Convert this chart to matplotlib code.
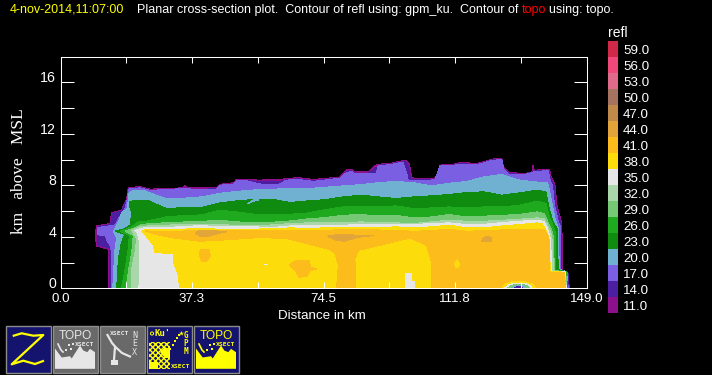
import numpy as np
import matplotlib
matplotlib.use('Agg')
import matplotlib.pyplot as plt
from matplotlib.patches import Rectangle, Polygon

# Data
#######

levels = [59, 56, 53, 50, 47, 44, 41, 38, 35, 32, 29, 26, 23, 20, 17, 14, 11]
colors = ['#d02848', '#f0487a', '#e06a8a', '#a57460', '#bf8a4a', '#e2a539', '#fbbc1c', '#fddc0c', '#e6e6e6',
          '#a9d7a9', '#75c975', '#1fa91f', '#0f8c0f', '#70b1d2', '#7a5fe3', '#4b1fa0', '#8c108c']
col = dict(zip(levels, colors))

x_ticks = [0, 18.625, 37.25, 55.875, 74.5, 93.125, 111.75, 130.375, 149]
x_labels = ['0.0', '', '37.3', '', '74.5', '', '111.8', '', '149.0']
y_ticks = [2, 4, 6, 8, 10, 12, 14, 16]
y_labels = [0, 4, 8, 12, 16]

# outer echo outline for 11 dBZ, km
x11 = [13.55, 13.55, 10.25, 9.8, 10.25, 14.0, 14.5, 17.3, 18.75, 19.2, 22.5, 25.4, 34.6, 35.3, 36, 39.5, 44.2, 45.2, 49,
       49.9, 52.7, 56.5, 58.4, 62.2, 64, 67.4, 71.6, 76.3, 79.2, 81.1, 82.5, 83.4, 87.2, 89, 90, 93.3, 96.2, 97.9, 98.8,
       99.5, 103.7, 106.1, 107.3, 108, 111.3, 113.2, 117.9, 119.8, 122.2, 125, 125.5, 126.9, 131.1, 133.5, 133.8, 134.2,
       138.5, 138.9, 140.1, 140.6, 142, 142.3, 143.9, 144.1]
y11 = [0, 3.03, 3.29, 4.12, 4.84, 5.03, 5.88, 6.06, 6.97, 7.8, 7.9, 7.7, 7.8, 8.0, 7.8, 7.8, 7.82, 8.08, 8.19,
       8.47, 8.47, 8.39, 8.45, 8.45, 8.52, 8.6, 8.45, 8.57, 8.65, 9.2, 9.2, 9.04, 9.04, 9.5, 9.64, 9.69, 9.87, 9.95, 9.69,
       8.57, 8.52, 8.57, 8.91, 9.6, 9.64, 9.77, 9.7, 9.82, 10.03, 10.08, 9.43, 9.0, 8.91, 8.99, 9.56, 9.17,
       9.25, 8.73, 8.0, 6.45, 5.03, 1.4, 1.14, 0]

x14 = [14.0, 13.9, 10.35, 10.35, 14.2, 14.7, 17.2, 18.9, 19.4, 22.5, 25.4, 39.5, 44.2, 45.3, 49, 50, 52.7, 56.5, 62.2, 64,
       67.4, 71.6, 76.3, 79.2, 81.2, 82.5, 83.4, 87.2, 89.2, 90.2, 93.3, 96.2, 97.6, 98.4, 99.2, 103.7, 106.1, 107.5, 108.2,
       111.3, 113.2, 117.9, 119.8, 122.2, 124.8, 125.3, 126.9, 131.1, 134.2, 138.3, 138.7, 139.8, 140.3, 141.7, 142.0, 143.8, 143.9]
y14 = [0, 3.15, 3.38, 4.75, 4.95, 5.8, 5.98, 6.88, 7.72, 7.82, 7.62, 7.7, 7.72, 7.98, 8.1, 8.38, 8.38, 8.28, 8.3, 8.44,
       8.5, 8.36, 8.48, 8.57, 9.1, 9.12, 8.95, 8.95, 9.3, 9.55, 9.62, 9.78, 9.85, 9.55, 8.48, 8.43, 8.48, 8.82, 9.55,
       9.56, 9.68, 9.62, 9.75, 9.96, 10.0, 9.35, 8.92, 8.83, 9.1, 9.18, 8.65, 7.95, 6.45, 5.03, 1.42, 1.16, 0]

x17 = [14.4, 14.3, 13.2, 12.6, 10.4, 10.4, 15.4, 16.6, 18.3, 18.9, 19.3, 22.5, 25.4, 35, 39.5, 44.2, 45.2, 49, 49.9, 52.7,
       56.5, 60, 62.2, 64, 67.4, 71.6, 76.3, 79.2, 81.1, 82.5, 83.4, 87.2, 89.5, 90, 93.3, 96.2, 97, 98, 98.5, 103.7, 106.1,
       107.5, 111.3, 113.2, 117.9, 119.8, 122.2, 125, 125.5, 126.9, 131.1, 134.2, 138.2, 138.6, 139.4, 139.9, 141, 141.6, 141.6, 143.6, 143.8]
y17 = [0, 3.2, 3.7, 4.1, 4.15, 4.72, 4.9, 5.5, 6.2, 6.9, 7.7, 7.8, 7.6, 7.75, 7.65, 7.7, 8.0, 8.1, 8.35, 8.35,
       8.1, 8.05, 8.1, 8.4, 8.45, 8.3, 8.45, 8.55, 9.0, 9.05, 8.9, 8.9, 8.95, 9.5, 9.6, 9.75, 9.75, 9.0, 8.4, 8.35, 8.45,
       9.5, 9.55, 9.65, 9.6, 9.72, 9.95, 9.98, 9.3, 8.85, 8.8, 9.05, 9.15, 8.5, 7.9, 6.5, 5.2, 4.8, 1.45, 1.2, 0]

# echo tops for the inner levels on a common distance grid
main_dist = [25, 30, 35, 40, 45, 50, 55, 60, 65, 70, 75, 80, 85, 90, 95, 100, 105, 110, 115, 120, 125, 130, 135]
top20 = [7.45, 6.95, 7.0, 7.1, 7.37, 7.53, 7.64, 7.7, 7.74, 7.74, 7.85, 7.95, 8.05, 8.2, 8.3, 8.2, 7.95, 8.15, 8.3, 8.65, 8.85, 8.4, 8.25]
top23 = [6.79, 6.19, 6.27, 6.27, 6.63, 6.79, 6.9, 6.92, 6.66, 6.79, 6.88, 7.1, 7.23, 7.1, 6.97, 7.1, 7.18, 7.28, 7.44, 7.49, 7.23, 7.41, 7.62]
top26 = [5.25, 5.55, 5.65, 5.7, 6.06, 5.93, 5.75, 5.75, 5.75, 5.85, 6.11, 6.32, 6.32, 6.32, 6.4, 6.19, 6.24, 6.32, 6.24, 6.32, 6.32, 6.45, 6.76]
top29 = [5.0, 5.1, 5.15, 5.2, 5.28, 5.16, 5.08, 5.13, 5.23, 5.39, 5.49, 5.67, 5.73, 5.62, 5.67, 5.47, 5.54, 5.73, 5.54, 5.6, 5.67, 5.73, 5.93]
top32 = [4.85, 4.9, 4.97, 4.97, 4.97, 4.87, 4.87, 4.92, 5.03, 5.08, 5.13, 5.08, 5.16, 5.1, 5.08, 5.03, 5.16, 5.28, 5.21, 5.21, 5.28, 5.36, 5.47]
top35 = [4.7, 4.72, 4.8, 4.87, 4.77, 4.77, 4.77, 4.72, 4.84, 4.87, 4.9, 4.9, 4.95, 4.95, 4.95, 4.95, 5.03, 5.08, 4.95, 4.97, 5.1, 5.21, 5.28]
top38 = [4.55, 4.55, 4.6, 4.64, 4.59, 4.59, 4.59, 4.64, 4.69, 4.66, 4.69, 4.69, 4.74, 4.72, 4.77, 4.69, 4.77, 4.9, 4.69, 4.69, 4.84, 4.95, 5.08]
top41 = [4.45, 4.4, 4.45, 4.5, 4.46, 4.5, 4.46, 4.46, 4.5, 4.5, 4.5, 4.56, 4.59, 4.53, 4.5, 4.43, 4.48, 4.59, 4.43, 4.48, 4.53, 4.59, 4.59]

# left ends (from the surface up to the main grid)
left20 = [(14.8, 0), (15.2, 2), (15.5, 3.3), (16.0, 3.9), (15, 4.38), (15.6, 4.75), (16.6, 5.3), (17.3, 5.9), (19.0, 6.2), (19.3, 7.3), (20, 7.55), (23.5, 7.6)]
left23 = [(15.9, 0), (16.4, 2.3), (17.3, 3.6), (18.3, 4.17), (15.45, 4.43), (18.3, 4.64), (19.7, 4.9), (20.2, 5.8), (19.5, 6.45), (19.5, 6.7), (21.1, 6.84), (24.3, 6.84)]
left26 = [(17.3, 0), (18.3, 1.5), (19.2, 3.1), (19.5, 4.1), (16.9, 4.43), (20.2, 4.77), (22.05, 5.15), (24.4, 5.2)]
left29 = [(18.6, 0), (19.2, 1.27), (20.2, 2.8), (20.6, 4.1), (18.3, 4.45), (21.1, 4.69), (22.5, 4.9), (24.4, 5.0)]
left32 = [(20, 0), (20.2, 1.5), (21.1, 2.8), (21.6, 3.86), (20.2, 4.5), (22.5, 4.77), (24.9, 4.85)]
left35 = [(22.2, 0), (22.5, 2), (22.5, 3.6), (21.6, 4.38), (21.1, 4.5), (23.5, 4.69)]
left38 = [(33.7, 0), (33.4, 1.0), (32, 2.05), (32, 2.7), (26.8, 2.77), (26.3, 3.34), (24.9, 3.86), (23, 4.43), (24, 4.56)]

# right ends (back down to the surface)
right20 = [(138.0, 8.2), (138.5, 7.6), (139.2, 6.6), (140.2, 5.3), (141.0, 4.7), (141.3, 1.5), (143.4, 1.28), (143.7, 0)]
right23 = [(137.5, 7.5), (138, 6.8), (138.6, 6), (139.5, 5.2), (140.7, 4.6), (141, 1.45), (143.3, 1.28), (143.6, 0)]
right26 = [(137.5, 6.6), (138.3, 5.7), (139.5, 4.9), (140.1, 4.4), (140.3, 1.4), (143.2, 1.28), (143.5, 0)]
right29 = [(137, 5.8), (138, 5.2), (139, 4.6), (139.6, 4), (139.9, 1.38), (143.1, 1.28), (143.4, 0)]
right32 = [(137, 5.4), (138, 4.9), (138.9, 4.3), (139.4, 3.5), (139.6, 1.35), (143, 1.27), (143.3, 0)]
right35 = [(137, 5.2), (138, 4.6), (138.8, 3.8), (139.2, 1.33), (142.9, 1.27), (143.25, 0)]
right38 = [(136.5, 5), (137.5, 4.5), (138.3, 3.8), (138.8, 1.3), (142.8, 1.25), (143.2, 0)]
right41 = [(137, 4.55), (138, 4.2), (138.6, 3.5), (138.6, 1.25), (142.7, 1.22), (143.1, 0)]

# 41 dBZ underside, from the right column back to the left tip
under41 = [(105.1, 0), (105.1, 2.05), (103.7, 3.34), (99, 3.9), (90.5, 3.34), (84.4, 2.95), (83.4, 2.3), (83.7, 0),
           (78.2, 0), (78.7, 1.8), (77.8, 2.7), (76.3, 3.0), (69.7, 3.47), (64, 3.86), (56.5, 3.94), (45.2, 3.73),
           (39.5, 3.65), (32, 3.9), (27.2, 4.17), (24, 4.45)]

# small cells
orange1 = [(39.6, 2.4), (39.3, 2.7), (39.9, 3.05), (42.2, 3.0), (42.4, 2.5), (41.4, 2.1), (40, 2.05)]
orange2 = [(64.8, 1.85), (67, 2.18), (70.5, 2.15), (70.8, 1.65), (72.6, 1.5), (70.5, 1.35), (70, 0.95), (67.5, 0.85), (66.5, 1.4)]
yellow1 = [(111.7, 1.9), (112.4, 2.2), (113, 1.9), (112.8, 1.65), (112, 1.65)]
white1 = [(57.6, 1.78), (57.6, 1.9), (58.8, 1.9), (58.8, 1.78)]
white2 = [(97.6, 0), (97.6, 1.22), (99.5, 1.22), (99.5, 0.55), (100.4, 0.55), (100.4, 0)]
orange3 = [(38.1, 4.3), (39, 4.45), (42, 4.5), (47.1, 4.4), (44, 4.2), (42, 4.05), (39.5, 4.05)]
orange4 = [(75.5, 4.05), (78.5, 4.17), (88.6, 4.1), (84, 3.95), (80.5, 3.65), (78, 3.75)]
orange5 = [(119.2, 3.65), (120, 3.95), (120.8, 4.05), (122, 3.95), (122, 3.65)]
notch20 = [(53, 6.55), (54.5, 6.85), (56, 7.0), (56, 6.85), (54.5, 6.75)]

# low-echo pocket near the surface
pocket38 = [(125, 0), (126, 0.35), (128, 0.5), (131.5, 0.5), (134, 0.3), (134.5, 0)]
pocket35 = [(125.8, 0), (127, 0.3), (129, 0.4), (131.5, 0.4), (133, 0.22), (133.6, 0)]
pocket29 = [(126.6, 0), (127.6, 0.22), (129.5, 0.33), (131, 0.32), (132.3, 0.17), (132.8, 0)]
pocket20 = [(127.6, 0), (128.6, 0.17), (130, 0.24), (131.4, 0.14), (131.9, 0)]
pocket14 = [(128.5, 0), (129.4, 0.12), (130.4, 0.14), (131.1, 0)]

# Figure
#########

W, H = 712, 375
plt.rcParams['font.family'] = ['Liberation Sans', 'DejaVu Sans']
fig = plt.figure(figsize=(W/100, H/100), dpi=100, facecolor='black')

# whole-figure axes in pixel coordinates for the title, colour key and buttons
chrome = fig.add_axes([0, 0, 1, 1])
chrome.set_xlim(0, W)
chrome.set_ylim(H, 0)
chrome.axis('off')

ax = fig.add_axes([60.5/W, (H-288.3)/H, 526/W, 231.8/H], facecolor='black')
ax.set_xlim(0, 149)
ax.set_ylim(0, 18)


def band(pts, color) :
    pts = np.array(pts)
    ax.fill(pts[:, 0], pts[:, 1], color=color, linewidth=0, antialiased=False)


def body(left, top, right) :
    return left + list(zip(main_dist, top)) + right


band(list(zip(x11, y11)), col[11])
band(list(zip(x14, y14)), col[14])
band(list(zip(x17, y17)), col[17])
band(body(left20, top20, right20), col[20])
band(body(left23, top23, right23), col[23])
band(notch20, col[20])
band(body(left26, top26, right26), col[26])
band(body(left29, top29, right29), col[29])
band(body(left32, top32, right32), col[32])
band(body(left35, top35, right35), col[35])
band(body(left38, top38, right38), col[38])
band(body([(24, 4.45)], top41, right41) + under41, col[41])
for cell in [orange1, orange2] :
    band(cell, col[41])
band(yellow1, col[38])
band(white1, col[35])
band(white2, col[35])
for cell in [orange3, orange4, orange5] :
    band(cell, col[44])
band(pocket38, col[38])
band(pocket35, col[35])
band(pocket29, col[29])
band(pocket20, col[20])
band(pocket14, col[14])

# frame and ticks
for s in ax.spines.values() :
    s.set_color('white')
    s.set_linewidth(0.75)
    s.set_zorder(10)
ax.set_xticks(x_ticks)
ax.set_xticklabels(x_labels, color='white', fontsize=9.6)
ax.set_yticks(y_ticks)
ax.set_yticklabels([])
ax.tick_params(axis='x', direction='in', length=4.3, width=0.75, color='white', top=True, pad=3.5)
ax.tick_params(axis='y', direction='in', length=9.4, width=0.75, color='white', right=True)
for side in ax.xaxis.get_major_ticks() + ax.yaxis.get_major_ticks() :
    side.tick1line.set_zorder(11)
    side.tick2line.set_zorder(11)
for v in y_labels :
    ax.annotate(str(v), (0, v), xytext=(-3.2, 3.0), textcoords='offset points', ha='right', va='center',
                color='white', fontsize=10.2, annotation_clip=False)

chrome.text(322, 316, 'Distance in km', color='white', fontsize=9.6, ha='center', va='center')
chrome.text(19, 171, 'km   above   MSL', color='white', fontsize=12.5, family='Liberation Serif',
            rotation=90, ha='center', va='center')

# title
chrome.text(10, 9.5, '4-nov-2014,11:07:00', color='#ffff00', fontsize=9, va='center')
chrome.text(137, 9.5, 'Planar cross-section plot.  Contour of refl using: gpm_ku.  Contour of', color='white', fontsize=9, va='center')
chrome.text(522, 9.5, 'topo', color='#ff0000', fontsize=9, va='center')
chrome.text(549, 9.5, 'using: topo.', color='white', fontsize=9, va='center')

# colour key
chrome.text(608, 33, 'refl', color='white', fontsize=10, va='center')
for i, (lev, c) in enumerate(zip(levels, colors)) :
    y0 = 41.3 + i*15.96
    chrome.add_patch(Rectangle((608, y0), 10, 15.96, facecolor=c, edgecolor='none'))
    chrome.text(623, y0 + 10, f'{lev:.1f}', color='white', fontsize=9.6, va='center')

# Buttons
##########

NAVY = '#14146e'
GREY = '#696969'
for x0, face in zip([5, 52, 99, 146, 193], [NAVY, GREY, GREY, NAVY, NAVY]) :
    chrome.add_patch(Rectangle((x0 + 0.5, 325.5), 45.5, 47, facecolor=face, edgecolor='#8c8c8c', linewidth=1))

z_x = [12.7, 21.7, 33.3, 43.3, 11.7, 23.3, 35, 44]
z_y = [336, 333.3, 335.7, 335, 364.3, 360.7, 364, 360.7]
chrome.plot(z_x, z_y, color='#ffff00', linewidth=1.6, solid_capstyle='butt')

# terrain silhouette shared by the two TOPO buttons
topo_x = [3, 3, 9.7, 18, 19.7, 28, 31.3, 35.3, 38, 43, 43]
topo_y = [43.3, 23, 32, 30.7, 33, 20, 25, 26.7, 23.3, 26.7, 43.3]
for x0, c in [(52, '#e6e6e6'), (193, '#ffff00')] :
    chrome.add_patch(Polygon(list(zip([x0 + v for v in topo_x], [325.5 + v for v in topo_y])), facecolor=c, edgecolor='none'))
    chrome.text(x0 + 23, 336, 'TOPO', color=c, fontsize=8.6, ha='center', va='center')
    chrome.text(x0 + 33, 345, 'XSECT', color=c, fontsize=4.6, family='DejaVu Sans Mono', weight='bold', ha='center', va='center')
    chrome.plot([x0 + 6, x0 + 9, x0 + 11], [344, 350, 352], color=c, linewidth=1.2)
    chrome.scatter([x0 + 14, x0 + 17, x0 + 19, x0 + 21], [350, 345, 349, 344], s=1, color=c, marker='s', linewidths=0)

# NEXRAD button
chrome.text(120, 333.5, 'XSECT', color='#e6e6e6', fontsize=4.6, family='DejaVu Sans Mono', weight='bold', ha='center', va='center')
for yy, letter in zip([336, 344, 352.5], 'NEX') :
    chrome.text(134.5, yy, letter, color='#e6e6e6', fontsize=6, family='DejaVu Sans Mono', ha='center', va='center')
chrome.plot([107.5, 112, 115.5, 122, 130], [335, 343, 347, 353, 356.5], color='#e6e6e6', linewidth=1.6)
chrome.plot([115, 114], [347, 360], color='#e6e6e6', linewidth=1.6)
chrome.add_patch(Rectangle((111, 360), 6.5, 5, facecolor='#e6e6e6', edgecolor='none'))

# GPM button
Y = '#ffff00'
chrome.add_patch(Rectangle((149, 342), 21, 27, facecolor='none', edgecolor=Y, hatch='xxxxxx', linewidth=0))
chrome.add_patch(Rectangle((149, 362), 9, 7, facecolor=Y, edgecolor='none'))
chrome.add_patch(Polygon([(160, 352), (165, 347), (170, 350), (170, 358), (165, 358)], facecolor=Y, edgecolor='none'))
chrome.scatter([152], [333.5], s=5, facecolors='none', edgecolors=Y, linewidths=0.7)
chrome.text(163, 333.5, "Ku'", color=Y, fontsize=6.5, family='DejaVu Sans Mono', weight='bold', ha='center', va='center')
chrome.text(181, 367, 'XSECT', color=Y, fontsize=4.6, family='DejaVu Sans Mono', weight='bold', ha='center', va='center')
for yy, letter in zip([336, 344, 352], 'GPM') :
    chrome.text(186, yy, letter, color=Y, fontsize=5.5, family='DejaVu Sans Mono', weight='bold', ha='center', va='center')
chrome.scatter([167, 170, 173, 175, 177, 179], [354, 349, 345, 341, 338, 335], s=1.5, color=Y, marker='s', linewidths=0)
chrome.scatter([180.5], [332.5], s=14, color=Y, marker='*', linewidths=0)

fig.savefig('out.png', dpi=100, facecolor='black')
